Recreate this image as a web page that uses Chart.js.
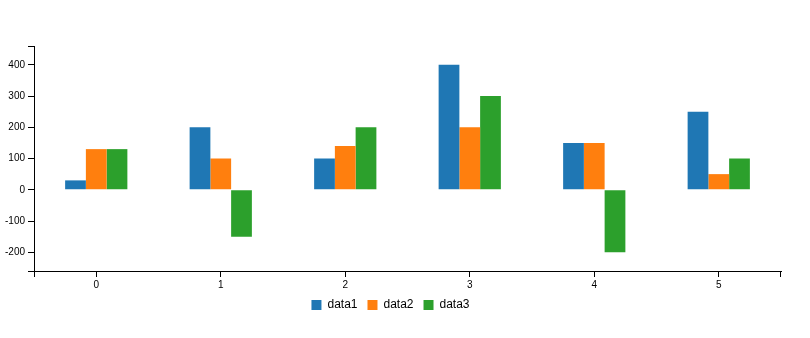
<!DOCTYPE html>
<html>
<head>
<meta charset="utf-8">
<script src="https://cdn.jsdelivr.net/npm/chart.js@4.4.0/dist/chart.umd.min.js"></script>
<style>
  html, body { margin: 0; padding: 0; background: #fff; }
  .chart-box { width: 810px; height: 338px; position: relative; }
</style>
</head>
<body>
<div class="chart-box"><canvas id="bar-chart"></canvas></div>
<script>
// data
const categories = ['0', '1', '2', '3', '4', '5'];
const data1 = [30, 200, 100, 400, 150, 250];
const data2 = [130, 100, 140, 200, 150, 50];
const data3 = [130, -150, 200, 300, -200, 100];
const yTicks = [-200, -100, 0, 100, 200, 300, 400];

Chart.defaults.font.family = '"Liberation Sans", Arial, sans-serif';
Chart.defaults.color = '#000';

// outer ticks at the ends of both axes (d3 style)
const outerTicks = {
  id: 'outerTicks',
  afterDraw(chart) {
    const { ctx, chartArea: a } = chart;
    ctx.save();
    ctx.strokeStyle = '#000';
    ctx.lineWidth = 1;
    ctx.beginPath();
    ctx.moveTo(a.left - 6, a.top + 0.5); ctx.lineTo(a.left, a.top + 0.5);
    ctx.moveTo(a.left - 6, a.bottom + 0.5); ctx.lineTo(a.left, a.bottom + 0.5);
    ctx.moveTo(a.left + 0.5, a.bottom); ctx.lineTo(a.left + 0.5, a.bottom + 6);
    ctx.moveTo(a.right - 0.5, a.bottom); ctx.lineTo(a.right - 0.5, a.bottom + 6);
    ctx.stroke();
    ctx.restore();
  }
};

const ctxBar = document.getElementById('bar-chart');

new Chart(ctxBar, {
  type: 'bar',
  data: {
    labels: categories,
    datasets: [
      { label: 'data1', data: data1, backgroundColor: '#1f77b4' },
      { label: 'data2', data: data2, backgroundColor: '#ff7f0e' },
      { label: 'data3', data: data3, backgroundColor: '#2ca02c' }
    ]
  },
  options: {
    responsive: true,
    maintainAspectRatio: false,
    animation: false,
    datasets: {
      bar: { categoryPercentage: 0.5, barPercentage: 1, borderWidth: 0 }
    },
    layout: { padding: { top: 46, right: 29, left: 0, bottom: 17 } },
    plugins: {
      tooltip: { enabled: false },
      legend: {
        position: 'bottom',
        labels: {
          boxWidth: 10,
          boxHeight: 10,
          padding: 10,
          font: { size: 12 },
          color: '#000'
        }
      }
    },
    scales: {
      x: {
        grid: { offset: false, drawOnChartArea: false, drawTicks: true, tickLength: 6, color: '#000' },
        border: { display: true, color: '#000' },
        ticks: { font: { size: 10 }, padding: 2, color: '#000' },
        afterFit: (scale) => { scale.height = 18; }
      },
      y: {
        min: -260,
        max: 460,
        grid: { drawOnChartArea: false, drawTicks: true, tickLength: 6, color: '#000' },
        border: { display: true, color: '#000' },
        ticks: { font: { size: 10 }, padding: 3, color: '#000' },
        afterBuildTicks: (scale) => { scale.ticks = yTicks.map(v => ({ value: v })); },
        afterFit: (scale) => { scale.width = 34; }
      }
    }
  },
  plugins: [outerTicks]
});
</script>
</body>
</html>
